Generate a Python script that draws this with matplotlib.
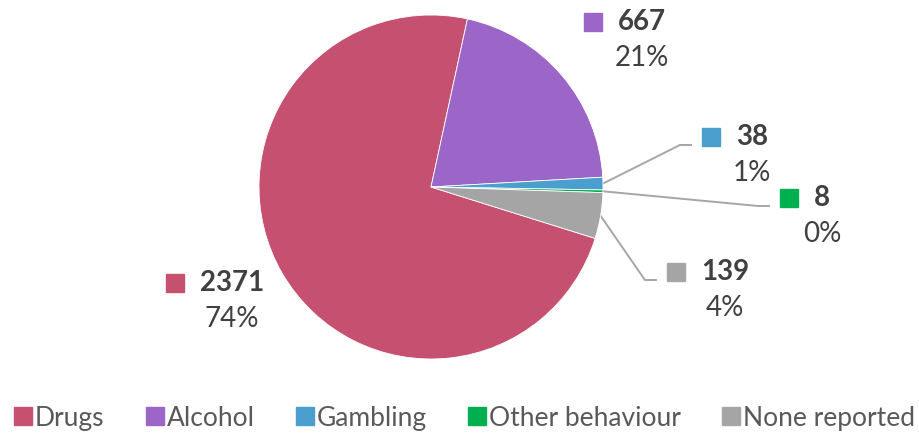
import numpy as np
import matplotlib
matplotlib.use("Agg")
import matplotlib.pyplot as plt
from matplotlib.lines import Line2D

plt.rcParams["font.family"] = ["Lato", "DejaVu Sans"]

categories = ["Drugs", "Alcohol", "Gambling", "Other behaviour", "None reported"]
values = [2371, 667, 38, 8, 139]
colors = ["#C5506F", "#9B66C7", "#4A9FCF", "#00B050", "#A5A5A5"]

# label placement (value centre, px from pie centre; x right, y up) and whether a leader line is drawn
label_pos = [(-199, -96), (211, 165), (321, 50), (391, -11), (294, -85)]
leader = [False, False, True, True, True]

W, H = 920, 436
cx, cy, R = 431, 187, 172
text_col = "#404040"

fig = plt.figure(figsize=(W / 100, H / 100), dpi=100)
ax = fig.add_axes([(cx - R) / W, (H - cy - R) / H, 2 * R / W, 2 * R / H])

total = sum(values)
# first slice (Drugs) starts 107.4 deg clockwise from 12 o'clock
start = 90 - 107.4
wedges, _ = ax.pie(values, colors=colors, startangle=start, counterclock=False,
                   radius=1, center=(0, 0),
                   wedgeprops=dict(edgecolor="white", linewidth=0.6))
ax.set_autoscale_on(False)
ax.set_xlim(-1, 1)
ax.set_ylim(-1, 1)
ax.set_aspect("equal")
ax.axis("off")

px = 1.0 / R
acc = 0.0
for i, v in enumerate(values):
    frac = v / total
    mid = np.deg2rad(start - 360 * (acc + frac / 2))
    acc += frac
    lx, ly = label_pos[i][0] * px, label_pos[i][1] * px
    pct = "{:.0f}%".format(100 * frac)
    t = ax.text(lx, ly, str(v), ha="center", va="center", fontsize=20,
                fontweight="bold", color=text_col, clip_on=False)
    ax.text(lx, ly - 36 * px, pct, ha="center", va="center", fontsize=20,
            color=text_col, clip_on=False)
    # width of the value text to place the square marker
    fig.canvas.draw()
    bb = t.get_window_extent()
    half_w = bb.width / 2 * px
    sq_x = lx - half_w - 25 * px
    ax.plot([sq_x], [ly], marker="s", markersize=13, color=colors[i],
            linestyle="none", clip_on=False)
    if leader[i]:
        ex, ey = np.cos(mid), np.sin(mid)
        hx = sq_x - 20 * px
        kx = hx - 11 * px
        ax.plot([ex, kx, hx], [ey, ly - 8 * px, ly - 8 * px], color="#A6A6A6",
                linewidth=1.4, clip_on=False, zorder=0)

ax.set_xlim(-1, 1)
ax.set_ylim(-1, 1)

handles = [Line2D([], [], marker="s", linestyle="none", markersize=13,
                  color=c) for c in colors]
fig.legend(handles, categories, loc="center", bbox_to_anchor=(465 / W, 1 - 418 / H),
           ncol=5, frameon=False, fontsize=19, handlelength=0.6,
           handletextpad=0.15, columnspacing=1.6, labelcolor="#595959")

fig.savefig("out.png", dpi=100)
